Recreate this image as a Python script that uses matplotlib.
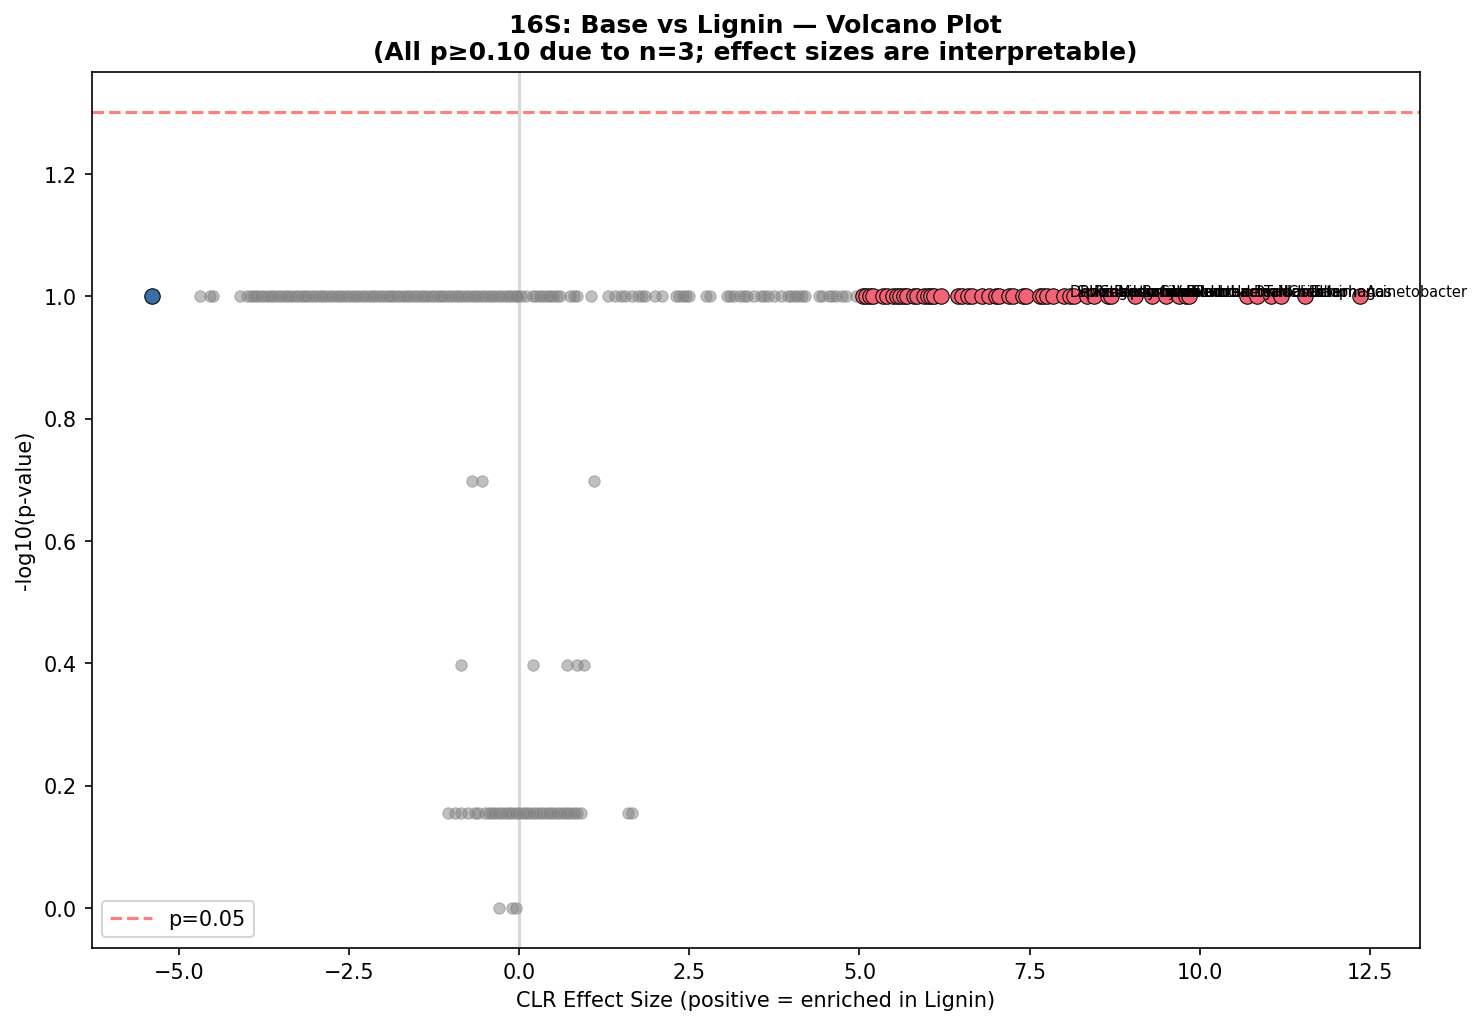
import matplotlib.pyplot as plt
import numpy as np

# gray (non-highlighted) taxa, grouped by -log10(p) level
gray_p1_x = [-4.7, -4.55, -4.5, -4.1, -4.0, -3.95, -3.9, -3.85, -3.8, -3.75, -3.7, -3.65, -3.6,
             -3.55, -3.5, -3.45, -3.4, -3.35, -3.3, -3.25, -3.2, -3.15, -3.1, -3.05, -3.0,
             -2.95, -2.9, -2.85, -2.8, -2.75, -2.7, -2.65, -2.6, -2.55, -2.5, -2.45, -2.4,
             -2.35, -2.3, -2.25, -2.2, -2.15, -2.1, -2.05, -2.0, -1.95, -1.9, -1.85, -1.8,
             -1.75, -1.7, -1.65, -1.6, -1.55, -1.5, -1.45, -1.4, -1.35, -1.3, -1.25, -1.2,
             -1.15, -1.1, -1.05, -1.0, -0.95, -0.9, -0.85, -0.8, -0.75, -0.7, -0.65, -0.6,
             -0.55, -0.5, -0.45, -0.4, -0.35, -0.3, -0.25, -0.2, -0.15, -0.1, -0.05,
             -0.03, 0.02, 0.1, 0.2, 0.25, 0.3, 0.35, 0.4, 0.45, 0.5, 0.55, 0.6,
             0.75, 0.8, 0.85, 1.05, 1.3, 1.4, 1.5, 1.55, 1.65, 1.75, 1.8, 1.85, 2.0, 2.1,
             2.3, 2.35, 2.4, 2.45, 2.5, 2.75, 2.8, 3.05, 3.1, 3.15, 3.25, 3.3, 3.35, 3.45,
             3.55, 3.6, 3.65, 3.75, 3.85, 3.95, 4.0, 4.05, 4.1, 4.15, 4.2, 4.4, 4.45, 4.55,
             4.6, 4.65, 4.75, 4.8, 4.95]
gray_p070_x = [-1.05, -0.95, -0.85, -0.75, -0.65, -0.6, -0.5, -0.45, -0.4, -0.35, -0.3, -0.25,
               -0.2, -0.15, -0.1, -0.05, 0.0, 0.05, 0.1, 0.15, 0.2, 0.25, 0.3, 0.35, 0.4,
               0.45, 0.5, 0.55, 0.6, 0.65, 0.7, 0.75, 0.8, 0.85, 0.9, 1.6, 1.65]
gray_p020_x = [-0.7, -0.55, 1.1]
gray_p040_x = [-0.85, 0.2, 0.7, 0.85, 0.95]
gray_p0_x = [-0.3, -0.1, -0.05]

up_x = [5.05, 5.1, 5.15, 5.2, 5.35, 5.4, 5.5, 5.55, 5.6, 5.65, 5.7, 5.8, 5.85, 5.95, 6.0,
        6.05, 6.1, 6.2, 6.45, 6.5, 6.6, 6.65, 6.8, 6.9, 7.0, 7.05, 7.2, 7.25, 7.4, 7.45,
        7.65, 7.7, 7.75, 7.85, 8.0, 8.1, 8.15, 8.35, 8.45, 8.65, 8.7, 9.05, 9.3, 9.5,
        9.7, 9.8, 9.85, 10.7, 10.85, 11.05, 11.2, 11.55, 12.35]
down_x = [-5.4]

# labels of the most enriched taxa
label_x = [8.0, 8.1, 8.15, 8.35, 8.45, 8.65, 8.7, 9.05, 9.3, 9.5, 9.7, 9.8, 9.85,
           10.7, 10.85, 11.05, 11.2, 11.55, 12.35]
label_names = ["Devosia", "Sphingomonas", "Rhizobium", "Pseudomonas", "Streptomyces",
               "Bradyrhizobium", "Mesorhizobium", "Bacillus", "Caulobacter", "Variovorax",
               "Burkholderia", "Flavobacterium", "Pedobacter", "Dyadobacter", "Taibaiella",
               "Niastella", "Chitinophaga", "Terrimonas", "Acinetobacter"]

fig = plt.figure(figsize=(9.84, 6.85), dpi=150)
ax = plt.gca()
for xs, y in [(gray_p1_x, 1.0), (gray_p070_x, 0.155), (gray_p020_x, 0.699),
              (gray_p040_x, 0.398), (gray_p0_x, 0.0)]:
    ax.scatter(xs, [y] * len(xs), color="gray", alpha=0.5, s=30, edgecolors="gray", linewidths=0.5)
ax.scatter(up_x, [1.0] * len(up_x), color="#f26376", edgecolors="black", linewidths=0.5, s=55, zorder=3)
ax.scatter(down_x, [1.0] * len(down_x), color="#3a6ea5", edgecolors="black", linewidths=0.5, s=55, zorder=3)
for x, name in zip(label_x, label_names):
    ax.annotate(name, (x, 1.0), xytext=(3, 0), textcoords="offset points", fontsize=7)
ax.axhline(-np.log10(0.05), color="red", linestyle="--", alpha=0.5, label="p=0.05")
ax.axvline(0, color="gray", alpha=0.3)
ax.set_xlabel("CLR Effect Size (positive = enriched in Lignin)")
ax.set_ylabel("-log10(p-value)")
ax.set_title("16S: Base vs Lignin — Volcano Plot\n(All p≥0.10 due to n=3; effect sizes are interpretable)",
             fontweight="bold")
ax.legend(loc="lower left")
fig.subplots_adjust(left=0.062, right=0.962, top=0.929, bottom=0.077)
plt.savefig("out.png", dpi=150)
